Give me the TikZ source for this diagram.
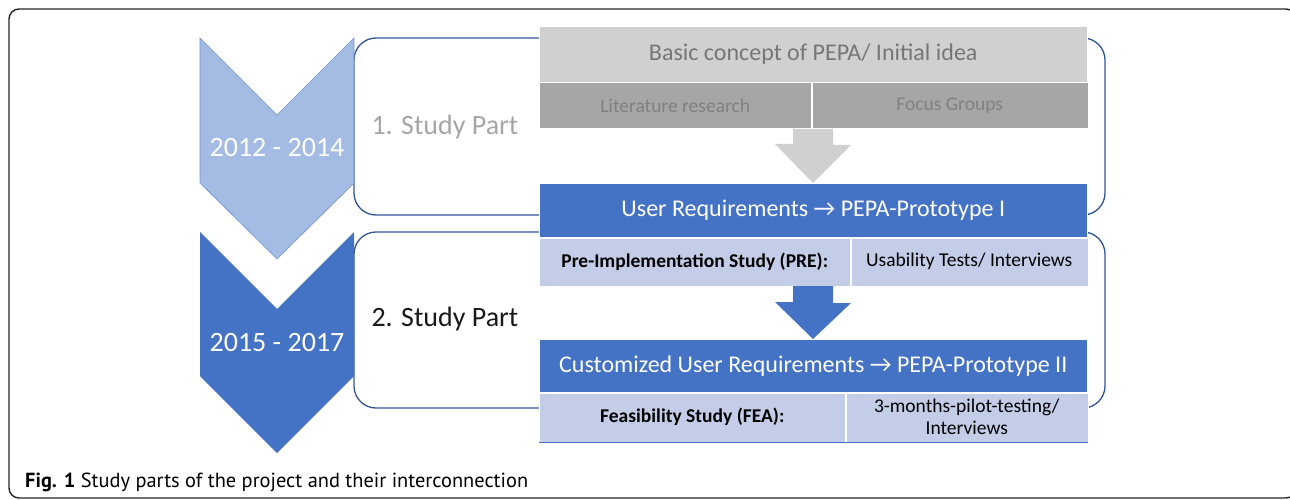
\documentclass[tikz,border=0pt]{standalone}
\usepackage{fontspec}
\setmainfont{Carlito}
\newfontfamily\capfont{PT Sans}
\usetikzlibrary{positioning,calc}

\definecolor{pepablue}{HTML}{4472C4}
\definecolor{pepalight}{HTML}{A4BBE3}
\definecolor{pepapale}{HTML}{C3CDE8}
\definecolor{pepagrey}{HTML}{D0D0D0}
\definecolor{pepadark}{HTML}{A6A6A6}
\definecolor{pepaline}{HTML}{2F5597}
\definecolor{pepatext}{HTML}{767676}

\tikzset{
  cell/.style={anchor=north west, inner sep=0pt, draw=white, line width=0.5pt},
  studybox/.style={draw=pepaline, line width=1.3pt, rounded corners=22pt},
  yearlabel/.style={text=white, font=\fontsize{28}{32}\selectfont},
  partlabel/.style={anchor=west, font=\fontsize{28}{32}\selectfont},
  celltext/.style={font=\fontsize{19.5}{22}\selectfont},
  boldtext/.style={font=\fontsize{19.5}{22}\selectfont\bfseries},
  bartext/.style={text=white, font=\fontsize{24}{28}\selectfont},
}

\begin{document}
\begin{tikzpicture}[x=1pt,y=-1pt]
    \useasboundingbox (0,0) rectangle (1290,500);

    % Rahmen
    \begin{scope}
        \clip (0,0) rectangle (1290,500);
        \draw[line width=1.4pt, black!85, rounded corners=10pt] (9,9) rectangle (1296,498);
    \end{scope}

    % Studienteile (Umrisse)
    \draw[studybox] (354,38) rectangle (1105,215);
    \draw[studybox] (354,232) rectangle (1105,408);

    % Zeitpfeile
    \filldraw[fill=pepalight, draw=pepablue!75, line width=0.6pt]
        (200,38) -- (277,115) -- (354,38) -- (354,183) -- (277,259) -- (200,183) -- cycle;
    \fill[pepablue]
        (200,232) -- (277,309) -- (354,232) -- (354,376) -- (277,453) -- (200,376) -- cycle;
    \node[yearlabel] (years1) at (277,148) {2012 - 2014};
    \node[yearlabel] (years2) at (277,343) {2015 - 2017};

    \node[partlabel, text=pepadark] (part1) at (368,127) {1. Study Part};
    \node[partlabel, text=black!90] (part2) at (368,319) {2. Study Part};

    % 1. Studienteil
    \node[cell, fill=pepagrey, minimum width=548, minimum height=56, text=pepatext,
          font=\fontsize{24}{28}\selectfont] (idea) at (539,26) {\raisebox{1.5pt}{Basic concept of PEPA/ Initial idea}};
    \node[cell, fill=pepadark, minimum width=272, minimum height=46, text=black!50, celltext]
          (lit) at (idea.south west) {Literature research};
    \node[cell, fill=pepadark, minimum width=276, minimum height=46, text=black!50, celltext]
          (focus) at (lit.north east) {Focus Groups};

    \node[cell, fill=pepablue, minimum width=548, minimum height=54, bartext]
          (req1) at (539,183) {User Requirements → PEPA-Prototype I};

    \coordinate (ax) at (813,0);
    \fill[pepagrey] ($(lit.south -| ax)+(-20,0)$) -- ++(40,0) -- ++(0,16) -- ++(18,0)
        -- (req1.north -| ax) -- ++(-38,-39) -- ++(18,0) -- cycle;

    % 2. Studienteil
    \node[cell, fill=pepapale, minimum width=311, minimum height=48, boldtext]
          (pre) at (req1.south west) {Pre-Implementation Study (PRE):};
    \node[cell, fill=pepapale, minimum width=237, minimum height=48, celltext]
          (usab) at (pre.north east) {Usability Tests/ Interviews};

    \node[cell, fill=pepablue, minimum width=548, minimum height=53, bartext]
          (req2) at (539,339) {Customized User Requirements → PEPA-Prototype II};

    \fill[pepablue] ($(pre.south -| ax)+(-20,0)$) -- ++(40,0) -- ++(0,17) -- ++(18,0)
        -- (req2.north -| ax) -- ++(-38,-37) -- ++(18,0) -- cycle;

    \node[cell, fill=pepapale, minimum width=306, minimum height=49, boldtext]
          (fea) at (req2.south west) {Feasibility Study (FEA):};
    \node[cell, fill=pepapale, minimum width=242, minimum height=49, celltext, align=center]
          (pilot) at (fea.north east) {3-months-pilot-testing/\\Interviews};
    \draw[pepablue, line width=1pt] (fea.south west) -- (pilot.south east);

    % Bildunterschrift
    \node[anchor=west, inner sep=0pt, font=\capfont\fontsize{20.4}{24}\selectfont]
          (caption) at (25,482) {\textbf{Fig. 1} Study parts of the project and their interconnection};
\end{tikzpicture}
\end{document}
